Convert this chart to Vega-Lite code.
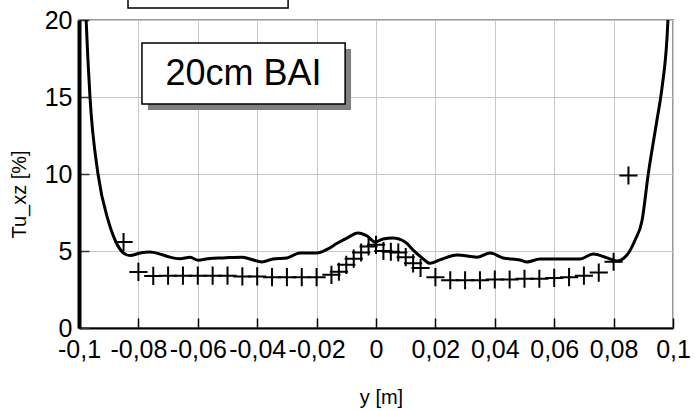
{
  "$schema": "https://vega.github.io/schema/vega-lite/v6.json",
  "width": 594,
  "height": 308,
  "autosize": "none",
  "padding": {"left": 79, "top": 20, "right": 22, "bottom": 83},
  "config": {
    "font": "Liberation Sans",
    "view": {"stroke": "#999999", "strokeWidth": 2}
  },
  "datasets": {
    "curve": [
      {"x": -0.0980, "y": 22}, {"x": -0.0976, "y": 20}, {"x": -0.0963, "y": 15}, {"x": -0.0936, "y": 10},
      {"x": -0.0902, "y": 7}, {"x": -0.0876, "y": 5.6}, {"x": -0.0852, "y": 4.9}, {"x": -0.0828, "y": 4.7},
      {"x": -0.0795, "y": 4.87}, {"x": -0.0761, "y": 4.94}, {"x": -0.0727, "y": 4.8}, {"x": -0.0694, "y": 4.6},
      {"x": -0.0660, "y": 4.5}, {"x": -0.0626, "y": 4.6}, {"x": -0.0599, "y": 4.4}, {"x": -0.0559, "y": 4.52},
      {"x": -0.0515, "y": 4.55}, {"x": -0.0451, "y": 4.6}, {"x": -0.0424, "y": 4.48}, {"x": -0.0384, "y": 4.29},
      {"x": -0.0347, "y": 4.48}, {"x": -0.0300, "y": 4.55}, {"x": -0.0256, "y": 4.87}, {"x": -0.0199, "y": 4.87},
      {"x": -0.0165, "y": 5.1}, {"x": -0.0131, "y": 5.5}, {"x": -0.0098, "y": 5.84}, {"x": -0.0061, "y": 6.17},
      {"x": -0.0030, "y": 5.97}, {"x": -0.0003, "y": 5.58}, {"x": 0.0024, "y": 5.78}, {"x": 0.0057, "y": 5.84},
      {"x": 0.0098, "y": 5.58}, {"x": 0.0125, "y": 5.06}, {"x": 0.0155, "y": 4.55}, {"x": 0.0182, "y": 4.2},
      {"x": 0.0215, "y": 4.42}, {"x": 0.0273, "y": 4.74}, {"x": 0.0340, "y": 4.6}, {"x": 0.0384, "y": 4.87},
      {"x": 0.0428, "y": 4.55}, {"x": 0.0485, "y": 4.42}, {"x": 0.0508, "y": 4.29}, {"x": 0.0552, "y": 4.48},
      {"x": 0.0596, "y": 4.48}, {"x": 0.0687, "y": 4.48}, {"x": 0.0731, "y": 4.8}, {"x": 0.0778, "y": 4.55},
      {"x": 0.0811, "y": 4.35}, {"x": 0.0845, "y": 4.74}, {"x": 0.0872, "y": 5.7}, {"x": 0.0896, "y": 7.0},
      {"x": 0.0916, "y": 9.9}, {"x": 0.0946, "y": 13.5}, {"x": 0.0963, "y": 15.6}, {"x": 0.0980, "y": 18.9},
      {"x": 0.0983, "y": 20}, {"x": 0.0987, "y": 22}
    ],
    "crosses": [
      {"x": -0.085, "y": 5.58}, {"x": -0.08, "y": 3.64}, {"x": -0.075, "y": 3.38}, {"x": -0.07, "y": 3.4},
      {"x": -0.065, "y": 3.4}, {"x": -0.06, "y": 3.4}, {"x": -0.055, "y": 3.4}, {"x": -0.05, "y": 3.4},
      {"x": -0.045, "y": 3.35}, {"x": -0.04, "y": 3.35}, {"x": -0.035, "y": 3.3}, {"x": -0.03, "y": 3.3},
      {"x": -0.025, "y": 3.3}, {"x": -0.02, "y": 3.3}, {"x": -0.015, "y": 3.45}, {"x": -0.0125, "y": 3.65},
      {"x": -0.01, "y": 4.1}, {"x": -0.0075, "y": 4.5}, {"x": -0.005, "y": 4.9}, {"x": -0.0025, "y": 5.3},
      {"x": 0, "y": 5.4}, {"x": 0.0025, "y": 5.0}, {"x": 0.005, "y": 4.95}, {"x": 0.0075, "y": 4.9},
      {"x": 0.01, "y": 4.6}, {"x": 0.0125, "y": 4.2}, {"x": 0.015, "y": 3.9}, {"x": 0.02, "y": 3.3},
      {"x": 0.025, "y": 3.1}, {"x": 0.03, "y": 3.1}, {"x": 0.035, "y": 3.1}, {"x": 0.04, "y": 3.15},
      {"x": 0.045, "y": 3.15}, {"x": 0.05, "y": 3.2}, {"x": 0.055, "y": 3.2}, {"x": 0.06, "y": 3.25},
      {"x": 0.065, "y": 3.3}, {"x": 0.07, "y": 3.4}, {"x": 0.075, "y": 3.6}, {"x": 0.08, "y": 4.3},
      {"x": 0.085, "y": 9.9}
    ],
    "boxes": [
      {"kind": "top", "x1": -0.0835, "x2": -0.0296, "y1": 20.78, "y2": 22.5},
      {"kind": "shadow", "x1": -0.0768, "x2": -0.0084, "y1": 14.16, "y2": 18.11},
      {"kind": "box", "x1": -0.0788, "x2": -0.0104, "y1": 14.55, "y2": 18.5}
    ],
    "labels": [
      {"x": -0.0446, "y": 16.52, "text": "20cm BAI"}
    ]
  },
  "layer": [
    {
      "data": {"name": "curve"},
      "mark": {"type": "line", "color": "black", "strokeWidth": 3, "interpolate": "monotone", "clip": true},
      "encoding": {
        "x": {
          "field": "x", "type": "quantitative",
          "scale": {"domain": [-0.1, 0.1], "nice": false, "zero": false},
          "axis": {
            "title": "y [m]",
            "values": [-0.1, -0.08, -0.06, -0.04, -0.02, 0, 0.02, 0.04, 0.06, 0.08, 0.1],
            "labelExpr": "replace(datum.value + '', '.', ',')",
            "labelFontSize": 25, "labelColor": "black", "labelFlush": false, "labelOverlap": false, "labelBound": false,
            "labelPadding": 19,
            "tickSize": -10, "tickColor": "black", "tickWidth": 1.5,
            "domainColor": "black", "domainWidth": 2,
            "grid": true, "gridColor": "#c8c8c8", "gridWidth": 1,
            "titleFontSize": 20, "titleFontWeight": "normal", "titleColor": "black",
            "titleX": 302, "titleY": 69, "titleBaseline": "middle", "titleAlign": "center"
          }
        },
        "y": {
          "field": "y", "type": "quantitative",
          "scale": {"domain": [0, 20], "nice": false},
          "axis": {
            "title": "Tu_xz [%]",
            "values": [0, 5, 10, 15, 20],
            "labelFontSize": 25, "labelColor": "black", "labelBound": false, "labelFlush": false, "labelOverlap": false,
            "labelPadding": 17,
            "tickSize": -10, "tickColor": "#333333", "tickWidth": 1.5,
            "domainColor": "black", "domainWidth": 4,
            "grid": true, "gridColor": "#c8c8c8", "gridWidth": 1,
            "titleFontSize": 20, "titleFontWeight": "normal", "titleColor": "black",
            "titleX": -60, "titleY": 174, "titleAngle": -90, "titleBaseline": "middle", "titleAlign": "center"
          }
        }
      }
    },
    {
      "data": {"name": "crosses"},
      "mark": {"type": "point", "shape": "M-1,0H1M0,-1V1", "size": 330, "filled": false, "stroke": "black", "strokeWidth": 2, "opacity": 1},
      "encoding": {
        "x": {"field": "x", "type": "quantitative"},
        "y": {"field": "y", "type": "quantitative"}
      }
    },
    {
      "mark": {"type": "rule", "color": "black", "strokeWidth": 4},
      "encoding": {"x": {"datum": 0.1, "type": "quantitative"}}
    },
    {
      "data": {"name": "boxes"},
      "transform": [{"filter": "datum.kind === 'top'"}],
      "mark": {"type": "rect", "fill": "white", "stroke": "black", "strokeWidth": 1.5, "clip": false},
      "encoding": {
        "x": {"field": "x1", "type": "quantitative"}, "x2": {"field": "x2"},
        "y": {"field": "y1", "type": "quantitative"}, "y2": {"field": "y2"}
      }
    },
    {
      "data": {"name": "boxes"},
      "transform": [{"filter": "datum.kind === 'shadow'"}],
      "mark": {"type": "rect", "fill": "#808080"},
      "encoding": {
        "x": {"field": "x1", "type": "quantitative"}, "x2": {"field": "x2"},
        "y": {"field": "y1", "type": "quantitative"}, "y2": {"field": "y2"}
      }
    },
    {
      "data": {"name": "boxes"},
      "transform": [{"filter": "datum.kind === 'box'"}],
      "mark": {"type": "rect", "fill": "white", "stroke": "black", "strokeWidth": 1.5},
      "encoding": {
        "x": {"field": "x1", "type": "quantitative"}, "x2": {"field": "x2"},
        "y": {"field": "y1", "type": "quantitative"}, "y2": {"field": "y2"}
      }
    },
    {
      "data": {"name": "labels"},
      "mark": {"type": "text", "fontSize": 36, "align": "center", "baseline": "middle", "color": "black"},
      "encoding": {
        "x": {"field": "x", "type": "quantitative"},
        "y": {"field": "y", "type": "quantitative"},
        "text": {"field": "text"}
      }
    }
  ]
}
